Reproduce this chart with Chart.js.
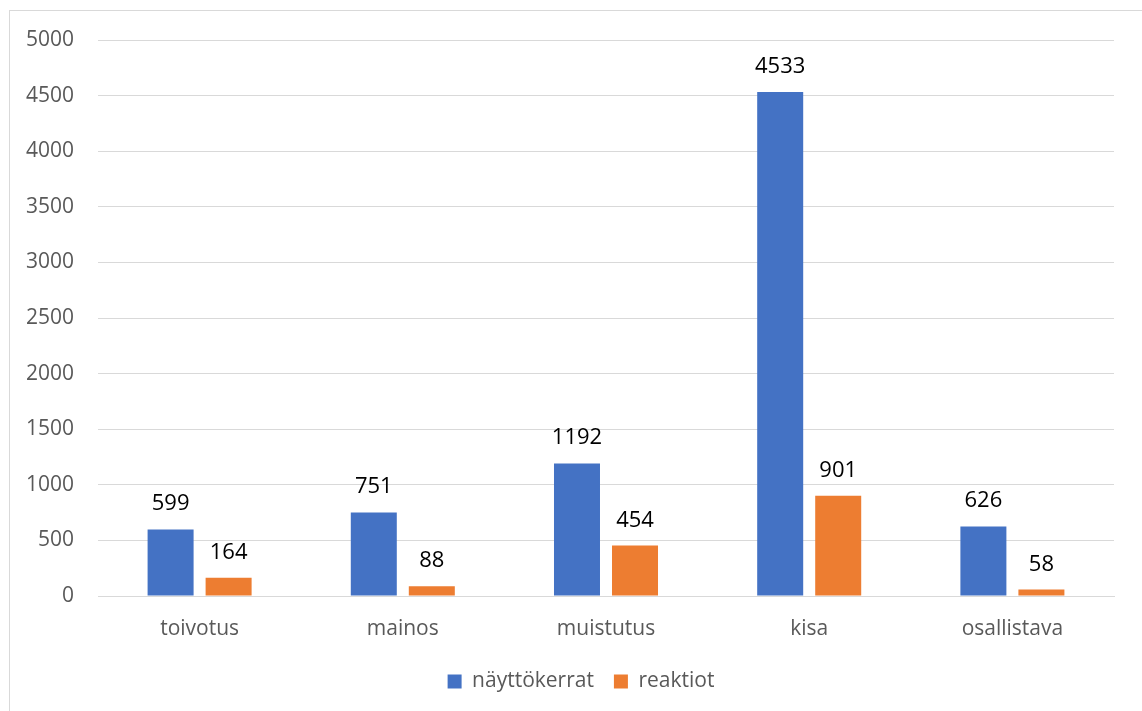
<!DOCTYPE html>
<html>
<head>
<meta charset="utf-8">
<script src="https://cdn.jsdelivr.net/npm/chart.js@4/dist/chart.umd.min.js"></script>
<style>
  html, body { margin: 0; padding: 0; background: #fff; overflow: hidden; width: 1142px; height: 711px; }
  #frame { position: absolute; left: 9px; top: 10px; width: 2000px; height: 2000px; border: 1px solid #d9d9d9; box-sizing: border-box; }
  #c { position: absolute; left: 10px; top: 10px; }
</style>
</head>
<body>
<div id="frame"></div>
<canvas id="c" width="1141" height="701"></canvas>
<script>
const categories = ['toivotus', 'mainos', 'muistutus', 'kisa', 'osallistava'];
const nayttokerrat = [599, 751, 1192, 4533, 626];
const reaktiot = [164, 88, 454, 901, 58];
const seriesNames = ['näyttökerrat', 'reaktiot'];
const yTicks = [0, 500, 1000, 1500, 2000, 2500, 3000, 3500, 4000, 4500, 5000];

const FONT = "'Open Sans', 'Noto Sans', sans-serif";

const dataLabels = {
  id: 'dataLabels',
  afterDatasetsDraw(chart) {
    const ctx = chart.ctx;
    ctx.save();
    ctx.font = "22px " + FONT;
    ctx.fillStyle = '#000000';
    ctx.textAlign = 'center';
    ctx.textBaseline = 'alphabetic';
    chart.data.datasets.forEach((ds, i) => {
      const meta = chart.getDatasetMeta(i);
      meta.data.forEach((bar, j) => {
        ctx.fillText(String(ds.data[j]), bar.x, bar.y - 19);
      });
    });
    ctx.restore();
  }
};

const legendShift = {
  id: 'legendShift',
  afterLayout(chart) {
    if (chart.legend) { chart.legend.left += 19; chart.legend.right += 19; }
  }
};

new Chart(document.getElementById('c'), {
  type: 'bar',
  data: {
    labels: categories,
    datasets: [
      { label: seriesNames[0], data: nayttokerrat, backgroundColor: '#4472C4', categoryPercentage: 0.571, barPercentage: 0.793 },
      { label: seriesNames[1], data: reaktiot, backgroundColor: '#ED7D31', categoryPercentage: 0.571, barPercentage: 0.793 }
    ]
  },
  options: {
    responsive: false,
    animation: false,
    events: [],
    layout: { padding: { left: 0, right: 37, top: 30, bottom: 9 } },
    plugins: {
      tooltip: { enabled: false },
      legend: {
        position: 'bottom',
        labels: {
          boxWidth: 14, boxHeight: 14, padding: 20,
          color: '#595959',
          font: { family: FONT, size: 21 }
        }
      }
    },
    scales: {
      x: {
        grid: { display: false, drawTicks: false },
        border: { display: true, color: '#d9d9d9', width: 1 },
        ticks: { color: '#595959', font: { family: FONT, size: 21 }, padding: 20 },
        afterFit(scale) { scale.height = 55; }
      },
      y: {
        min: 0, max: 5000,
        afterBuildTicks(scale) { scale.ticks = yTicks.map(v => ({ value: v })); },
        grid: { color: '#d9d9d9', lineWidth: 1, drawTicks: false },
        border: { display: false },
        ticks: { color: '#595959', font: { family: FONT, size: 21 }, padding: 24, callback: v => String(v) },
        afterFit(scale) { scale.width = 88; scale.paddingTop = 0; scale.paddingBottom = 0; }
      }
    }
  },
  plugins: [dataLabels, legendShift]
});
</script>
</body>
</html>
